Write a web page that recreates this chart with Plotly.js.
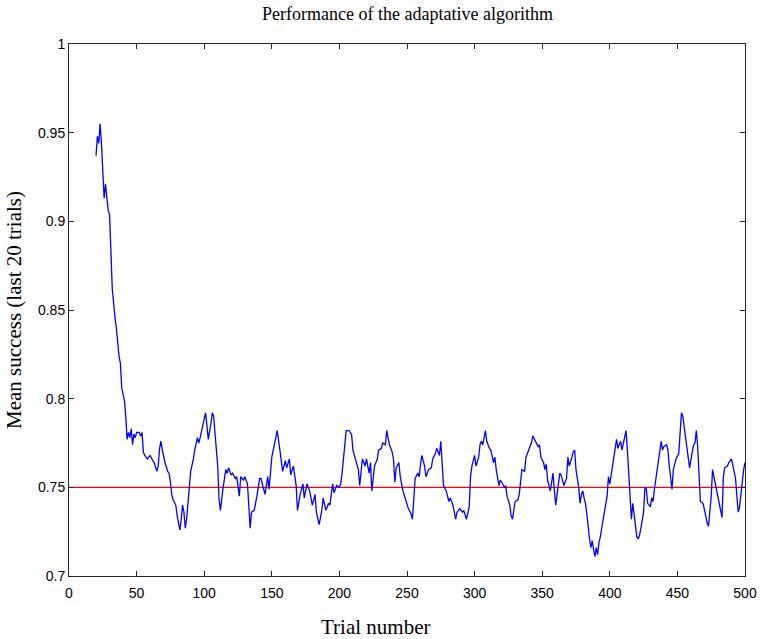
<!DOCTYPE html>
<html>
<head>
<meta charset="utf-8">
<script src="https://cdn.plot.ly/plotly-3.0.1.min.js"></script>
<style>html,body{margin:0;padding:0;background:#fff;}#chart{width:766px;height:639px;}</style>
</head>
<body>
<div id="chart"></div>
<script>
// Trial number of each sample on the curve
const trials = [20,21,22,23,24,25,26,27,28,29,30,32,34,35,37,38,39,41,42,43,44,45,46,47,48,49,50,52,53,54,55,56,58,60,62,63,65,66,67,68,69,71,73,74,75,76,77,79,80,82,83,84,85,86,87,89,90,92,93,95,96,97,99,101,102,103,105,106,107,108,110,111,112,114,116,117,118,120,121,123,124,126,127,129,130,132,133,134,135,137,139,141,142,144,145,147,148,150,152,154,156,158,160,161,163,164,166,168,169,171,173,174,176,178,180,182,183,185,187,188,190,192,193,195,196,198,200,201,202,204,205,207,209,210,212,214,215,217,219,220,222,223,224,226,228,229,231,232,234,235,237,239,240,241,242,244,245,247,249,251,253,254,255,256,258,259,260,261,263,264,266,268,269,271,272,274,275,276,277,279,281,282,284,285,286,287,289,291,292,294,296,297,298,300,301,303,304,305,306,308,309,311,312,314,315,316,318,319,320,322,323,324,326,327,328,330,332,333,334,335,337,338,340,342,343,345,347,348,349,351,352,353,354,356,357,358,359,360,361,363,364,366,367,368,369,370,372,373,374,375,377,378,379,380,381,382,383,384,385,386,387,388,389,390,391,392,393,394,395,396,398,399,400,402,404,405,406,408,409,410,412,413,414,415,416,417,418,419,420,421,422,423,425,426,427,428,430,431,432,433,435,436,437,438,439,440,442,443,444,445,446,447,448,449,451,452,453,454,456,457,458,459,461,462,463,464,465,466,467,469,470,471,472,473,475,476,477,478,480,482,483,484,485,487,488,490,492,493,494,495,496,498,499,500];
// Mean success over the last 20 trials
const meanSuccess = [0.937,0.948,0.944,0.955,0.944,0.930,0.913,0.921,0.912,0.906,0.904,0.862,0.846,0.840,0.824,0.820,0.806,0.799,0.790,0.777,0.781,0.778,0.783,0.774,0.780,0.778,0.781,0.781,0.779,0.781,0.770,0.768,0.766,0.768,0.765,0.764,0.759,0.762,0.772,0.776,0.771,0.764,0.759,0.758,0.753,0.746,0.743,0.740,0.734,0.726,0.732,0.740,0.736,0.727,0.732,0.749,0.759,0.766,0.771,0.778,0.775,0.778,0.786,0.792,0.785,0.777,0.786,0.792,0.790,0.781,0.762,0.743,0.737,0.750,0.760,0.758,0.761,0.757,0.758,0.755,0.756,0.745,0.756,0.754,0.756,0.752,0.740,0.727,0.736,0.737,0.745,0.755,0.755,0.748,0.746,0.756,0.749,0.767,0.775,0.782,0.771,0.759,0.765,0.761,0.766,0.757,0.762,0.751,0.737,0.746,0.752,0.744,0.752,0.748,0.740,0.746,0.736,0.729,0.737,0.744,0.737,0.741,0.740,0.752,0.747,0.751,0.750,0.752,0.758,0.777,0.782,0.782,0.780,0.771,0.766,0.760,0.751,0.766,0.762,0.766,0.758,0.764,0.748,0.762,0.766,0.771,0.772,0.775,0.774,0.782,0.774,0.770,0.766,0.753,0.761,0.764,0.756,0.748,0.743,0.738,0.735,0.732,0.743,0.755,0.758,0.756,0.763,0.768,0.762,0.756,0.760,0.761,0.766,0.769,0.772,0.768,0.776,0.765,0.751,0.748,0.742,0.744,0.740,0.736,0.732,0.736,0.738,0.736,0.737,0.732,0.739,0.756,0.762,0.768,0.762,0.767,0.774,0.776,0.774,0.782,0.776,0.772,0.771,0.764,0.767,0.760,0.751,0.754,0.753,0.750,0.751,0.745,0.740,0.734,0.732,0.742,0.743,0.746,0.754,0.760,0.759,0.767,0.771,0.775,0.779,0.776,0.773,0.774,0.767,0.764,0.760,0.763,0.754,0.748,0.754,0.758,0.748,0.740,0.746,0.758,0.757,0.751,0.753,0.755,0.767,0.762,0.767,0.770,0.771,0.760,0.750,0.741,0.746,0.748,0.744,0.741,0.735,0.726,0.721,0.716,0.720,0.715,0.711,0.716,0.712,0.719,0.722,0.727,0.732,0.736,0.745,0.756,0.752,0.762,0.773,0.777,0.772,0.776,0.771,0.775,0.782,0.771,0.760,0.747,0.732,0.741,0.734,0.726,0.722,0.721,0.723,0.727,0.736,0.750,0.749,0.741,0.739,0.744,0.742,0.749,0.760,0.767,0.770,0.776,0.771,0.773,0.774,0.771,0.762,0.754,0.749,0.760,0.764,0.766,0.769,0.781,0.792,0.790,0.779,0.773,0.767,0.761,0.770,0.774,0.775,0.782,0.773,0.758,0.742,0.741,0.737,0.734,0.730,0.728,0.745,0.760,0.756,0.752,0.745,0.737,0.733,0.756,0.761,0.762,0.764,0.766,0.759,0.755,0.745,0.736,0.739,0.754,0.760,0.764];
// Reference level line
const refX = [0, 500];
const refY = [0.75, 0.75];
// Axis ticks
const xTickVals = [0,50,100,150,200,250,300,350,400,450,500];
const yTickVals = [0.7,0.75,0.8,0.85,0.9,0.95,1];
const yTickText = ['0.7','0.75','0.8','0.85','0.9','0.95','1'];

const serif = 'Liberation Serif, Times New Roman, serif';

const traces = [
  {x: refX, y: refY, type: 'scatter', mode: 'lines', line: {color: '#ff0000', width: 1.3}, hoverinfo: 'skip'},
  {x: trials, y: meanSuccess, type: 'scatter', mode: 'lines', line: {color: '#0000ff', width: 1.3}}
];

const axisCommon = {
  showline: true, mirror: 'ticks', linecolor: '#262626', linewidth: 1,
  ticks: 'inside', ticklen: 5, tickcolor: '#262626', tickwidth: 1,
  showgrid: false, zeroline: false,
  tickfont: {family: 'Liberation Sans, Arial, sans-serif', size: 14, color: '#000'}
};

const layout = {
  width: 766, height: 639,
  margin: {l: 69, r: 21, t: 44, b: 63},
  paper_bgcolor: '#fff', plot_bgcolor: '#fff',
  showlegend: false,
  title: {text: 'Performance of the adaptative algorithm', x: 0.532, xanchor: 'center', y: 0.978, yanchor: 'middle',
          font: {family: serif, size: 18, color: '#000'}},
  xaxis: Object.assign({}, axisCommon, {
    range: [0, 500], tickvals: xTickVals, ticklabelstandoff: 4
  }),
  yaxis: Object.assign({}, axisCommon, {
    range: [0.7, 1], tickvals: yTickVals, ticktext: yTickText,
    title: {text: 'Mean success (last 20 trials)', standoff: 10, font: {family: serif, size: 21, color: '#000'}}
  }),
  annotations: [{
    text: 'Trial number', xref: 'paper', yref: 'paper', x: 0.453, y: -0.096,
    xanchor: 'center', yanchor: 'middle', showarrow: false,
    font: {family: serif, size: 21, color: '#000'}
  }]
};

Plotly.newPlot('chart', traces, layout, {displayModeBar: false, staticPlot: true});
</script>
</body>
</html>
